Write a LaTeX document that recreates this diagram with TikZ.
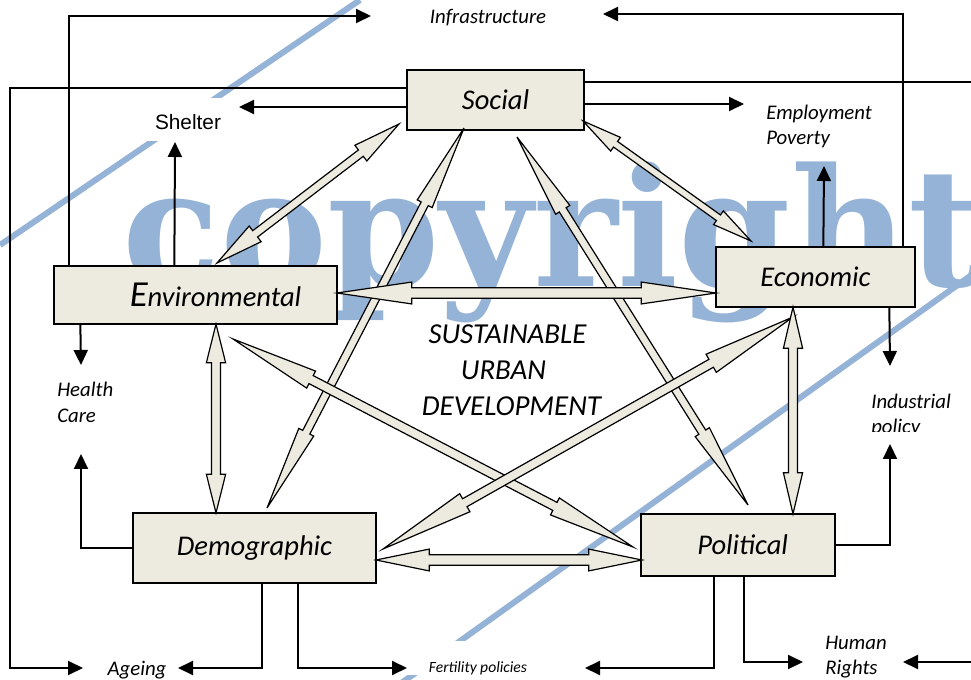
\documentclass[tikz,border=0pt]{standalone}
\usepackage{fontspec}
\setmainfont{Carlito}
\newfontfamily\shelterfont{Liberation Sans}
\newfontfamily\wmfont{DejaVu Serif}
\usetikzlibrary{arrows.meta,calc}
\definecolor{boxfill}{RGB}{237,235,224}
\definecolor{wmblue}{RGB}{149,179,215}
% #1 end A, #2 end B, #3 head length, #4 shaft half width, #5 head half width
\newcommand{\blockarr}[5]{%
  \coordinate (ba1) at ($(#1)!#3!(#2)$);
  \coordinate (ba2) at ($(#2)!#3!(#1)$);
  \draw[blockarrow] (#1) -- ($(ba1)!#5!90:(#2)$) -- ($(ba1)!#4!90:(#2)$)
    -- ($(ba2)!#4!-90:(#1)$) -- ($(ba2)!#5!-90:(#1)$) -- (#2)
    -- ($(ba2)!#5!90:(#1)$) -- ($(ba2)!#4!90:(#1)$)
    -- ($(ba1)!#4!-90:(#2)$) -- ($(ba1)!#5!-90:(#2)$) -- cycle;
}
\begin{document}
\begin{tikzpicture}[x=0.75pt,y=-0.75pt,
  box/.style={draw=black, line width=1pt, fill=boxfill, inner sep=0pt,
    font=\fontsize{21.4}{25}\selectfont\itshape},
  conn/.style={draw=black, line width=1.5pt, -{Triangle[length=11.25pt,width=10.5pt]}},
  blockarrow/.style={draw=black, line width=0.9pt, fill=boxfill, line join=miter},
  lab/.style={font=\fontsize{15.6}{18.75}\selectfont\itshape, inner sep=0pt},
  band/.style={draw=wmblue, line width=4.5pt},
  sud/.style={font=\fontsize{21.7}{27}\selectfont\itshape, inner sep=0pt, anchor=base}
]
\useasboundingbox (0,0) rectangle (971,680);
\clip (0,0) rectangle (971,680);

% watermark
\node[anchor=base west, inner sep=0pt, text=wmblue, xscale=0.98,
  font=\wmfont\bfseries\fontsize{123}{123}\selectfont] (wm) at (122,287) {copyright};
\draw[band] (360,0) -- (0,245);
\draw[band] (980,269) -- (400,684);

% labels
\node[lab, anchor=base] (infra) at (488,24) {Infrastructure};
\node[font=\shelterfont\fontsize{15.6}{18}\selectfont, anchor=base, fill=white,
  inner xsep=5.25pt, inner ysep=0pt, text height=24pt, text depth=8.25pt] (shelter) at (188,130) {Shelter};
\node[lab, anchor=base west] (empl) at (766,120) {Employment};
\node[lab, anchor=base west] (pov) at (766,145) {Poverty};
\node[lab, anchor=base west] (health) at (57,397) {Health};
\node[lab, anchor=base west] (care) at (57,423) {Care};
\node[lab, anchor=base west] (indus) at (871,409) {Industrial};
\begin{scope}
  \clip (860,380) rectangle (971,432);
  \node[lab, anchor=base west] (policy) at (871,434) {policy};
\end{scope}
\node[lab, anchor=base] (ageing) at (137,675) {Ageing};
\node[font=\fontsize{11.7}{14}\selectfont\itshape, anchor=base, fill=white,
  inner xsep=17pt, inner ysep=0pt, text height=23.25pt, text depth=2.25pt] (fert) at (478,672) {Fertility policies};
\node[lab, anchor=base west] (human) at (825,649) {Human};
\node[lab, anchor=base west] (rights) at (825,674) {Rights};
\node[sud] (sud1) at (507.5,344) {SUSTAINABLE};
\node[sud] (sud2) at (503.5,380) {URBAN};
\node[sud] (sud3) at (511.5,416) {DEVELOPMENT};

% boxes
\node[box, minimum width=132.75pt, minimum height=45pt] (soc) at (495.5,100) {Social};
\node[box, minimum width=212.25pt, minimum height=43.5pt] (env) at (195.5,295)
  {\hspace*{30pt}\fontsize{27.5}{30}\selectfont E\fontsize{21.4}{25}\selectfont nvironmental};
\node[box, minimum width=149.25pt, minimum height=45pt] (eco) at (815.5,277) {Economic};
\node[box, minimum width=182.25pt, minimum height=52.5pt] (dem) at (254.5,548) {Demographic};
\node[box, minimum width=145.5pt, minimum height=46.5pt] (pol) at (738,545) {\hspace*{7pt}Political};

% free ends of the black connectors
\coordinate (infraL) at (371,16);
\coordinate (infraR) at (603,14);
\coordinate (rail) at (10,668);
\coordinate (ageL) at (83,668);
\coordinate (railR) at (985,662);
\coordinate (humanR) at (903,662);
\coordinate (shelterR) at (239,107);
\coordinate (emplL) at (744,104);
\coordinate (shelterB) at (175,142);
\coordinate (emplB) at (824,166);
\coordinate (healthT) at (81,365);
\coordinate (indT) at (890,366);
\coordinate (healthB) at (81,454);
\coordinate (indB) at (890,444);
\coordinate (ageR) at (178,668);
\coordinate (fertL) at (407,668);
\coordinate (fertR) at (585,668);
\coordinate (humanL) at (803,662);

\draw[conn] ([xshift=12pt]env.north west) |- (infraL);
\draw[conn] ([xshift=-9.75pt]eco.north east) |- (infraR);
\draw[conn] ([yshift=-14.25pt]soc.north west) -| (rail) -- (ageL);
\draw[conn] ([yshift=-9.75pt]soc.north east) -| (railR) -- (humanR);
\draw[conn] ([yshift=-5.25pt]soc.west) -- (shelterR);
\draw[conn] ([yshift=-3pt]soc.east) -- (emplL);
\draw[conn] ([xshift=90.75pt]env.north west) -- (shelterB);
\draw[conn] ([xshift=81pt]eco.north west) -- (emplB);
\draw[conn] ([xshift=20.25pt]env.south west) -- (healthT);
\draw[conn] ([xshift=130.5pt]eco.south west) -- (indT);
\draw[conn] (dem.west) -| (healthB);
\draw[conn] (pol.east) -| (indB);
\draw[conn] ([xshift=97.5pt]dem.south west) |- (ageR);
\draw[conn] ([xshift=124.5pt]dem.south west) |- (fertL);
\draw[conn] ([xshift=55.5pt]pol.south west) |- (fertR);
\draw[conn] ([xshift=78pt]pol.south west) |- (humanL);

% ends of the block arrows
\coordinate (a1) at (399,124); \coordinate (a2) at (217,263);
\coordinate (b1) at (583,121); \coordinate (b2) at (751,241);
\coordinate (c1) at (337,293); \coordinate (c2) at (716,293);
\coordinate (d1) at (216,324); \coordinate (d2) at (216,513);
\coordinate (e1) at (793,307); \coordinate (e2) at (793,514);
\coordinate (f1) at (376,560); \coordinate (f2) at (642,560);
\coordinate (g1) at (464,128); \coordinate (g2) at (267,508);
\coordinate (h1) at (517,137); \coordinate (h2) at (748,505);
\coordinate (i1) at (233,339); \coordinate (i2) at (633,547);
\coordinate (j1) at (793,317); \coordinate (j2) at (383,549);

\blockarr{g1}{g2}{64pt}{3pt}{6.3pt}
\blockarr{h1}{h2}{64.5pt}{3pt}{6.3pt}
\blockarr{i1}{i2}{66pt}{3.4pt}{7.2pt}
\blockarr{j1}{j2}{70.5pt}{3.4pt}{7.8pt}
\blockarr{a1}{a2}{36pt}{3pt}{7.4pt}
\blockarr{b1}{b2}{30pt}{2.6pt}{6.3pt}
\blockarr{c1}{c2}{56pt}{4pt}{8.2pt}
\blockarr{d1}{d2}{29pt}{3.4pt}{7.2pt}
\blockarr{e1}{e2}{31pt}{3.4pt}{7.2pt}
\blockarr{f1}{f2}{40pt}{4pt}{8.2pt}
\end{tikzpicture}
\end{document}
